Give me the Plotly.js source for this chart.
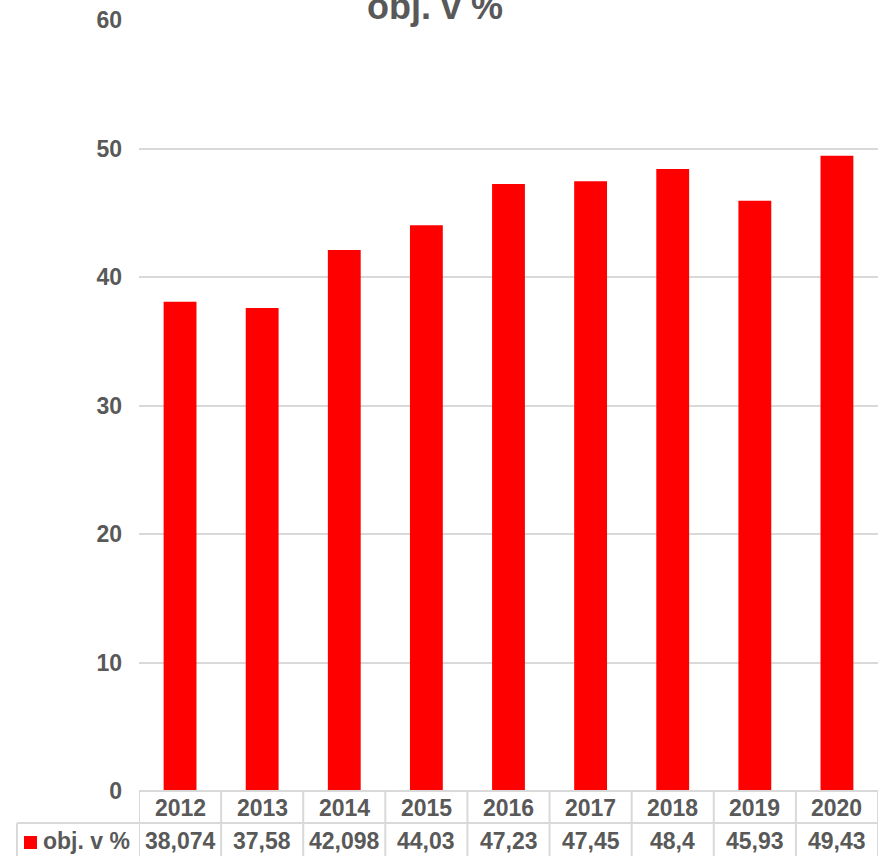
<!DOCTYPE html>
<html>
<head>
<meta charset="utf-8">
<script src="https://cdn.plot.ly/plotly-3.0.1.min.js"></script>
<style>html,body{margin:0;padding:0;background:#fff;}#chart{width:881px;height:856px;}</style>
</head>
<body>
<div id="chart"></div>
<script>
const years = ["2012","2013","2014","2015","2016","2017","2018","2019","2020"];
const values = [38.074, 37.58, 42.098, 44.03, 47.23, 47.45, 48.4, 45.93, 49.43];
const valueLabels = ["38,074","37,58","42,098","44,03","47,23","47,45","48,4","45,93","49,43"];
const seriesName = "obj. v %";
const chartTitle = "obj. v %";

const W = 881, H = 856;
const M = {l: 139, r: 3, t: 20, b: 65};
const plotH = H - M.t - M.b;
const plotW = W - M.l - M.r;
const px2py = p => -(p - (H - M.b)) / plotH; // pixel y -> paper y
const px2px = p => (p - M.l) / plotW;        // pixel x -> paper x

const textColor = "#595959";
const lineColor = "#d9d9d9";
const font = "Liberation Sans, Arial, sans-serif";

const row1Bottom = px2py(823);
const row2Bottom = px2py(857);
const row1Mid = px2py(808);
const row2Mid = px2py(841);
const tableLeft = px2px(17);

const shapes = [];
const annotations = [];
// horizontal lines
shapes.push({type:"line", xref:"paper", yref:"paper", x0:0, x1:1, y0:0, y1:0, line:{color:lineColor, width:2}});
shapes.push({type:"line", xref:"paper", yref:"paper", x0:tableLeft, x1:1, y0:row1Bottom, y1:row1Bottom, line:{color:lineColor, width:2}});
shapes.push({type:"line", xref:"paper", yref:"paper", x0:tableLeft, x1:tableLeft, y0:row1Bottom, y1:row2Bottom, line:{color:lineColor, width:2}});
for (let i = 0; i <= years.length; i++) {
  shapes.push({type:"line", xref:"x", yref:"paper", x0:i-0.5, x1:i-0.5, y0:0, y1:row2Bottom, line:{color:lineColor, width:2}});
}
years.forEach((y, i) => {
  annotations.push({xref:"x", yref:"paper", x:i, y:row1Mid, text:"<b>"+y+"</b>", showarrow:false, font:{family:font, size:23, color:textColor}, xanchor:"center", yanchor:"middle"});
  annotations.push({xref:"x", yref:"paper", x:i, y:row2Mid, text:"<b>"+valueLabels[i]+"</b>", showarrow:false, font:{family:font, size:23, color:textColor}, xanchor:"center", yanchor:"middle"});
});
// legend key
shapes.push({type:"rect", xref:"paper", yref:"paper", x0:px2px(24), x1:px2px(37), y0:px2py(849), y1:px2py(836), fillcolor:"#ff0000", line:{width:0}});
annotations.push({xref:"paper", yref:"paper", x:px2px(41), y:row2Mid, text:"<b>"+seriesName+"</b>", showarrow:false, font:{family:font, size:23, color:textColor}, xanchor:"left", yanchor:"middle"});

const data = [{
  type: "bar",
  x: years,
  y: values,
  name: seriesName,
  marker: {color: "#ff0000"},
  hoverinfo: "skip"
}];

const layout = {
  width: W, height: H,
  margin: M,
  paper_bgcolor: "#fff",
  plot_bgcolor: "#fff",
  showlegend: false,
  bargap: 0.6,
  title: {text: "<b>"+chartTitle+"</b>", font:{family:font, size:36, color:textColor}, xref:"container", yref:"container", x: 435/W, y: 1 - 6/H, xanchor:"center", yanchor:"middle"},
  xaxis: {type:"category", range:[-0.5, 8.5], showticklabels:false, showgrid:false, zeroline:false, showline:false, ticks:""},
  yaxis: {range:[0, 60], dtick:10, showgrid:true, gridcolor:lineColor, gridwidth:2, zeroline:false, showline:false, ticks:"",
          tickfont:{family:font, size:23, color:textColor}, ticklabelstandoff:16, tickprefix:"<b>", ticksuffix:"</b>"},
  shapes: shapes,
  annotations: annotations
};

Plotly.newPlot("chart", data, layout, {displayModeBar:false, staticPlot:true});
</script>
</body>
</html>
